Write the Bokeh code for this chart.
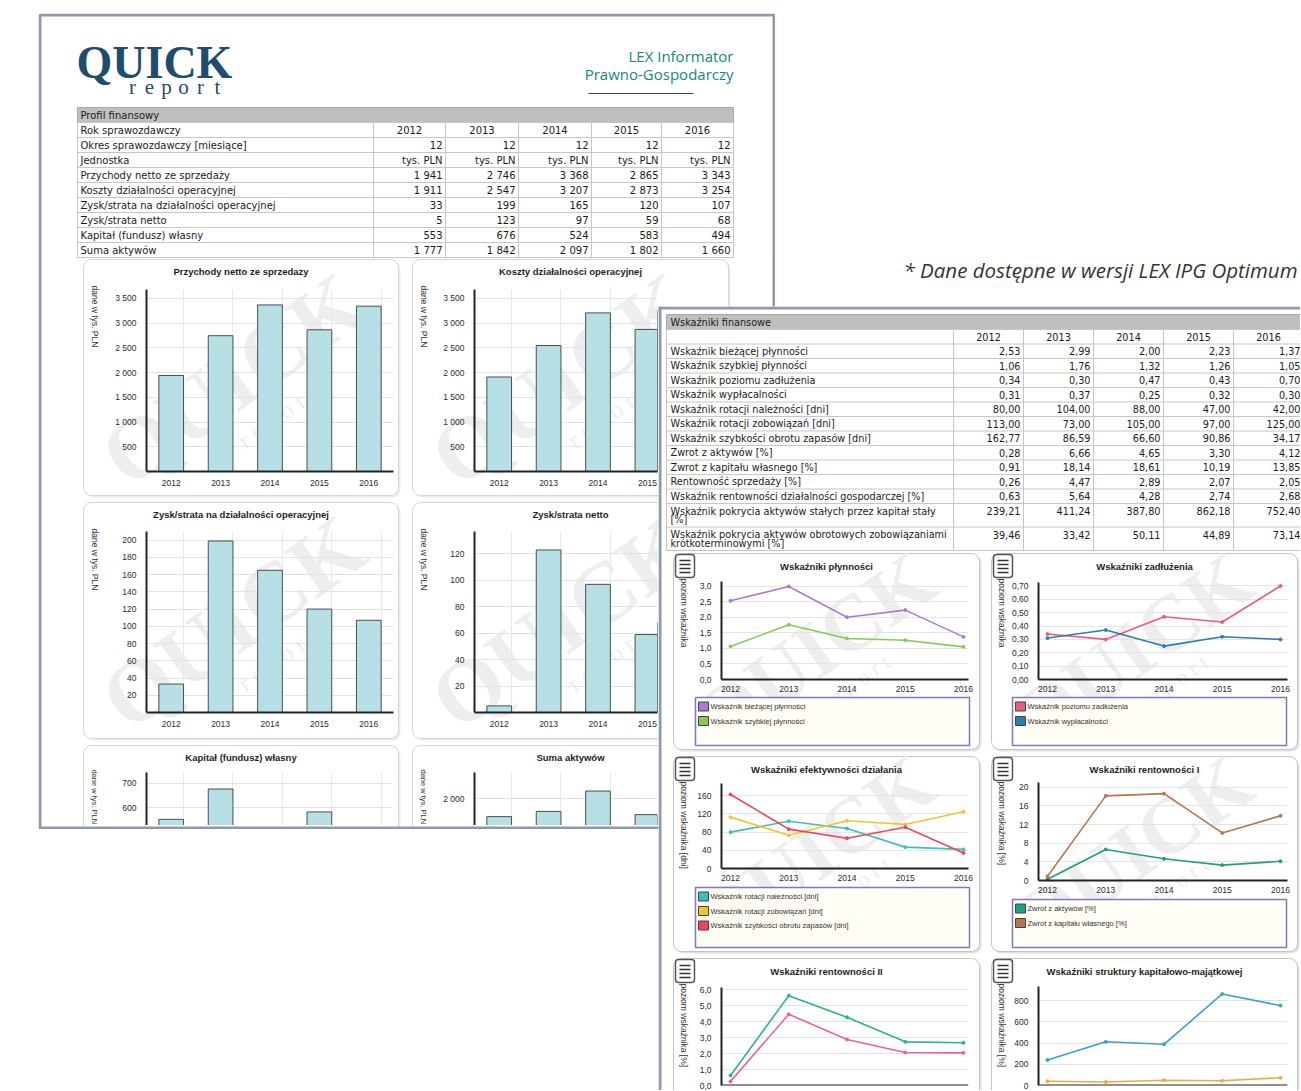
import math
from bokeh.plotting import figure
from bokeh.models import Range1d, FixedTicker, CustomJSTickFormatter, Grid, Span
from bokeh.embed import file_html
from bokeh.resources import INLINE
from bokeh.core.properties import value

# ------------------------------------------------------------------ data
YEARS = [2012, 2013, 2014, 2015, 2016]
YEAR_LABELS = ["2012", "2013", "2014", "2015", "2016"]

# Profil finansowy
okres_mies = [12, 12, 12, 12, 12]
jednostka = ["tys. PLN", "tys. PLN", "tys. PLN", "tys. PLN", "tys. PLN"]
przychody = [1941, 2746, 3368, 2865, 3343]
koszty = [1911, 2547, 3207, 2873, 3254]
zysk_oper = [33, 199, 165, 120, 107]
zysk_netto = [5, 123, 97, 59, 68]
kapital = [553, 676, 524, 583, 494]
suma_aktywow = [1777, 1842, 2097, 1802, 1660]

# Wskaźniki finansowe
w_biez = [2.53, 2.99, 2.00, 2.23, 1.37]
w_szybk = [1.06, 1.76, 1.32, 1.26, 1.05]
w_zadl = [0.34, 0.30, 0.47, 0.43, 0.70]
w_wypl = [0.31, 0.37, 0.25, 0.32, 0.30]
w_nal = [80.00, 104.00, 88.00, 47.00, 42.00]
w_zob = [113.00, 73.00, 105.00, 97.00, 125.00]
w_zap = [162.77, 86.59, 66.60, 90.86, 34.17]
w_roa = [0.28, 6.66, 4.65, 3.30, 4.12]
w_roe = [0.91, 18.14, 18.61, 10.19, 13.85]
w_ros = [0.26, 4.47, 2.89, 2.07, 2.05]
w_rdg = [0.63, 5.64, 4.28, 2.74, 2.68]
w_pas = [239.21, 411.24, 387.80, 862.18, 752.40]
w_pao = [39.46, 33.42, 50.11, 44.89, 73.14]

TABLE_FONT = "DejaVu Sans"
CHART_FONT = "Liberation Sans"
NAVY = "#1f4c6f"
TEAL = "#13897b"
BAR_FILL = "#b6e0e6"
PAGE_EDGE = "#8e99aa"
WM = "#eeeeee"


def fmt_int(v):
    return f"{v:,}".replace(",", " ")


def fmt_dec(v):
    return f"{v:.2f}".replace(".", ",")


def place(p, left, top):
    p.styles = {"position": "absolute", "left": f"{left}px", "top": f"{top}px"}


def canvas(left, top, w, h, fill="white"):
    p = figure(width=w, height=h, x_range=Range1d(left, left + w), y_range=Range1d(top + h, top),
               x_axis_type=None, y_axis_type=None, output_backend="svg",
               toolbar_location=None, min_border=0)
    p.outline_line_color = None
    p.background_fill_color = fill
    p.border_fill_color = fill
    place(p, left, top)
    return p


def texts(p, xs, ys, ss, size, color="#1a1a1a", font=TABLE_FONT, align="left",
          baseline="middle", style="normal", angle=0.0):
    p.text(x=list(xs), y=list(ys), text=list(ss), text_font=value(font),
           text_font_size=f"{size}px", text_color=color, text_align=align,
           text_baseline=baseline, text_font_style=style, angle=angle)


def card(p, x0, y0, x1, y1, line="#d4d4d4", shadow="#ececec"):
    p.quad(left=x0 + 2, right=x1 + 2, top=y0 + 2, bottom=y1 + 2, fill_color=shadow,
           line_color=None, border_radius=8)
    p.quad(left=x0, right=x1, top=y0, bottom=y1, fill_color="white", line_color=line,
           line_width=1, border_radius=8)


def watermark(p, cx, cy, size=90):
    ang = 0.62
    texts(p, [cx], [cy], ["QUICK"], size, color=WM, font="Liberation Serif", align="center",
          style="bold", angle=ang)
    texts(p, [cx + 0.5 * size], [cy + 0.42 * size], ["r e p o r t"], size * 0.28, color=WM,
          font="Liberation Serif", align="center", angle=ang)


def style_axes(p, size=8.5):
    for ax in p.axis:
        ax.axis_line_color = "#222222"
        ax.axis_line_width = 2
        ax.major_tick_line_color = None
        ax.minor_tick_line_color = None
        ax.major_label_text_font = CHART_FONT
        ax.major_label_text_font_size = f"{size}px"
        ax.major_label_text_color = "#2a2a2a"
        ax.major_label_standoff = 4


def bar_chart(frame, x_end, y_rng, yticks, vals, xaxis=True):
    fx0, fy0, fx1, fy1 = frame
    ml, mr, mt = 44, 2, 3
    mb = 16 if xaxis else 0
    p = figure(width=fx1 - fx0 + ml + mr, height=fy1 - fy0 + mt + mb,
               x_range=Range1d(2011.5, x_end), y_range=Range1d(*y_rng),
               x_axis_location="below" if xaxis else None,
               output_backend="svg", toolbar_location=None,
               min_border_left=ml, min_border_right=mr, min_border_top=mt, min_border_bottom=mb)
    p.grid.visible = False
    p.outline_line_color = None
    p.background_fill_color = None
    p.border_fill_color = None
    p.add_layout(Grid(dimension=1, ticker=FixedTicker(ticks=yticks), grid_line_color="#e3e3e3"))
    p.add_layout(Grid(dimension=0, ticker=FixedTicker(ticks=[y + 0.25 for y in YEARS]),
                      grid_line_color="#e8e8e8"))
    p.vbar(x=YEARS, top=vals, bottom=0, width=0.5, fill_color=BAR_FILL,
           line_color="#4d4d4d", line_width=1)
    p.yaxis.ticker = FixedTicker(ticks=yticks)
    p.yaxis.formatter = CustomJSTickFormatter(
        code=r"return String(Math.round(tick)).replace(/\B(?=(\d{3})+(?!\d))/g, ' ');")
    if xaxis:
        p.xaxis.ticker = FixedTicker(ticks=YEARS)
    style_axes(p)
    if xaxis:
        p.xaxis.major_label_standoff = 2
    place(p, fx0 - ml, fy0 - mt)
    return p


def line_chart(frame, x_end, y_end, yticks, decimals, series, xaxis=True):
    fx0, fy0, fx1, fy1 = frame
    ml, mr, mt = 32, 10, 6
    mb = 13 if xaxis else 5
    p = figure(width=fx1 - fx0 + ml + mr, height=fy1 - fy0 + mt + mb,
               x_range=Range1d(2011.845, x_end), y_range=Range1d(0, y_end),
               x_axis_location="below" if xaxis else None,
               output_backend="svg", toolbar_location=None,
               min_border_left=ml, min_border_right=mr, min_border_top=mt, min_border_bottom=mb)
    p.grid.visible = False
    p.outline_line_color = None
    p.background_fill_color = None
    p.border_fill_color = None
    p.add_layout(Grid(dimension=1, ticker=FixedTicker(ticks=yticks), grid_line_color="#e4e4e4"))
    for vals, col in series:
        p.line(YEARS, vals, line_color=col, line_width=1.6)
        p.scatter(YEARS, vals, size=3, fill_color=col, line_color=col)
    p.yaxis.ticker = FixedTicker(ticks=yticks)
    p.yaxis.formatter = CustomJSTickFormatter(
        code=f"return tick.toFixed({decimals}).replace('.', ',');")
    if xaxis:
        p.xaxis.ticker = FixedTicker(ticks=YEARS)
    else:
        p.add_layout(Span(location=0, dimension="width", line_color="#222222", line_width=2))
    style_axes(p, 8.5)
    if xaxis:
        p.xaxis.major_label_standoff = 0
    place(p, fx0 - ml, fy0 - mt)
    return p


roots = []

# ================================================================== left page
L = canvas(38, 13, 737, 816)
L.quad(left=38, right=775, top=13, bottom=829, fill_color="white", line_color=None)

# logo
texts(L, [76], [62], ["QUICK"], 46, color=NAVY, font="Liberation Serif", style="bold")
texts(L, [132 + 17 * i for i in range(6)], [86] * 6, list("report"), 21, color=NAVY,
      font="Liberation Serif", align="center")
texts(L, [733, 733], [55, 73], ["LEX Informator", "Prawno-Gospodarczy"], 15, color=TEAL,
      font="Open Sans", align="right")
L.segment(x0=[588], y0=[93], x1=[693], y1=[93], line_color="#444444", line_width=1.2)

# table Profil finansowy
LT_X0, LT_X1 = 77, 733
LT_COLS = [373, 445, 518, 591, 661, 733]
L.quad(left=LT_X0, right=LT_X1, top=107, bottom=122, fill_color="#bfbfbf", line_color="#a9a9a9")
texts(L, [80], [114.5], ["Profil finansowy"], 10)
left_rows = [
    ("Rok sprawozdawczy", YEAR_LABELS, "center"),
    ("Okres sprawozdawczy [miesiące]", [str(v) for v in okres_mies], "right"),
    ("Jednostka", jednostka, "right"),
    ("Przychody netto ze sprzedaży", [fmt_int(v) for v in przychody], "right"),
    ("Koszty działalności operacyjnej", [fmt_int(v) for v in koszty], "right"),
    ("Zysk/strata na działalności operacyjnej", [fmt_int(v) for v in zysk_oper], "right"),
    ("Zysk/strata netto", [fmt_int(v) for v in zysk_netto], "right"),
    ("Kapitał (fundusz) własny", [fmt_int(v) for v in kapital], "right"),
    ("Suma aktywów", [fmt_int(v) for v in suma_aktywow], "right"),
]
ROW_H = 15
n_rows = len(left_rows)
ybounds = [122 + ROW_H * i for i in range(n_rows + 1)]
L.segment(x0=[LT_X0] * len(ybounds), x1=[LT_X1] * len(ybounds), y0=ybounds, y1=ybounds,
          line_color="#c6c6c6", line_width=1)
L.segment(x0=[LT_X0] + LT_COLS, x1=[LT_X0] + LT_COLS, y0=[122] * 7, y1=[ybounds[-1]] * 7,
          line_color="#c6c6c6", line_width=1)
for i, (lab, cells, al) in enumerate(left_rows):
    yc = ybounds[i] + ROW_H / 2
    texts(L, [80], [yc], [lab], 10)
    if al == "center":
        xs = [(LT_COLS[j] + LT_COLS[j + 1]) / 2 for j in range(5)]
    else:
        xs = [LT_COLS[j + 1] - 3 for j in range(5)]
    texts(L, xs, [yc] * 5, cells, 10, align=al)

# chart cards (left page)
left_cards = [
    (83, 259, 398, 495, "Przychody netto ze sprzedazy", True),
    (412, 259, 728, 495, "Koszty działalności operacyjnej", True),
    (83, 502, 398, 738, "Zysk/strata na działalności operacyjnej", True),
    (412, 502, 728, 738, "Zysk/strata netto", True),
    (83, 745, 398, 860, "Kapitał (fundusz) własny", False),
    (412, 745, 728, 860, "Suma aktywów", False),
]
for x0, y0, x1, y1, ttl, full in left_cards:
    card(L, x0, y0, x1, y1)
    if full:
        watermark(L, (x0 + x1) / 2 - 8, (y0 + y1) / 2 + 2, 88)
        texts(L, [x0 + 11], [y0 + 26], ["dane w tys. PLN"], 8.5, font=CHART_FONT,
              angle=-math.pi / 2, color="#333333")
    else:
        texts(L, [x0 + 11], [y0 + 24], ["dane w tys. PLN"], 7.5, font=CHART_FONT,
              angle=-math.pi / 2, color="#333333")
    texts(L, [(x0 + x1) / 2], [y0 + 12], [ttl], 9.5, font=CHART_FONT, style="bold",
          align="center", color="#1e1e1e")

# page edge
L.quad(left=39.5, right=773.5, top=14.5, bottom=827.5, fill_color=None,
       line_color=PAGE_EDGE, line_width=3)
roots.append(L)

# left charts
roots.append(bar_chart((146, 289, 393, 472), 2016.5, (0, 3680),
                       [500, 1000, 1500, 2000, 2500, 3000, 3500], przychody))
roots.append(bar_chart((474, 289, 657, 472), 2015.204, (0, 3680),
                       [500, 1000, 1500, 2000, 2500, 3000, 3500], koszty))
roots.append(bar_chart((146, 531, 393, 713), 2016.5, (0, 210),
                       [20, 40, 60, 80, 100, 120, 140, 160, 180, 200], zysk_oper))
roots.append(bar_chart((474, 531, 657, 713), 2015.204, (0, 137),
                       [20, 40, 60, 80, 100, 120], zysk_netto))
roots.append(bar_chart((146, 772, 393, 825), 2016.5, (528, 743), [600, 700], kapital, xaxis=False))
roots.append(bar_chart((474, 772, 657, 825), 2015.204, (1666, 2329), [2000], suma_aktywow,
                       xaxis=False))

# ================================================================== note
N = canvas(895, 254, 405, 32)
texts(N, [903], [269], ["* Dane dostępne w wersji LEX IPG Optimum"], 20.5, color="#333333",
      font="Open Sans", style="italic")
roots.append(N)

# ================================================================== right page
R = canvas(658, 306, 642, 784)
R.quad(left=658, right=1300, top=306, bottom=1090, fill_color="white", line_color=None)

RT_X0, RT_X1 = 666, 1303
RT_COLS = [953, 1023, 1093, 1163, 1233, 1303]
R.quad(left=RT_X0, right=RT_X1, top=314, bottom=329, fill_color="#bfbfbf", line_color="#a9a9a9")
texts(R, [670], [321.5], ["Wskaźniki finansowe"], 9.7)
right_rows = [
    (["Wskaźnik bieżącej płynności"], w_biez),
    (["Wskaźnik szybkiej płynności"], w_szybk),
    (["Wskaźnik poziomu zadłużenia"], w_zadl),
    (["Wskaźnik wypłacalności"], w_wypl),
    (["Wskaźnik rotacji należności [dni]"], w_nal),
    (["Wskaźnik rotacji zobowiązań [dni]"], w_zob),
    (["Wskaźnik szybkości obrotu zapasów  [dni]"], w_zap),
    (["Zwrot z aktywów [%]"], w_roa),
    (["Zwrot z kapitału własnego [%]"], w_roe),
    (["Rentowność sprzedaży [%]"], w_ros),
    (["Wskaźnik rentowności działalności gospodarczej [%]"], w_rdg),
    (["Wskaźnik pokrycia aktywów stałych przez kapitał stały", "[%]"], w_pas),
    (["Wskaźnik pokrycia aktywów obrotowych zobowiązaniami", "krótkoterminowymi [%]"], w_pao),
]
heights = [14.5] + [14.5 if len(r[0]) == 1 else 23.5 for r in right_rows]
rb = [329.0]
for h in heights:
    rb.append(rb[-1] + h)
R.segment(x0=[RT_X0] * len(rb), x1=[RT_X1] * len(rb), y0=rb, y1=rb, line_color="#c6c6c6")
R.segment(x0=[RT_X0] + RT_COLS, x1=[RT_X0] + RT_COLS, y0=[329] * 7, y1=[rb[-1]] * 7,
          line_color="#c6c6c6")
texts(R, [(RT_COLS[j] + RT_COLS[j + 1]) / 2 for j in range(5)], [rb[0] + 7.5] * 5, YEAR_LABELS,
      9.7, align="center")
for i, (lines, vals) in enumerate(right_rows):
    top = rb[i + 1]
    if len(lines) == 1:
        yc = top + 14.5 / 2
        texts(R, [670], [yc], lines, 9.7)
    else:
        yc = top + 7.5
        texts(R, [670, 670], [yc, yc + 8.5], lines, 9.7)
    texts(R, [RT_COLS[j + 1] - 3 for j in range(5)], [yc] * 5, [fmt_dec(v) for v in vals], 9.7,
          align="right")

right_cards = [
    (673, 553, 979, 749, "Wskaźniki płynności", "poziom wskaźnika", True),
    (991, 553, 1297, 749, "Wskaźniki zadłużenia", "poziom wskaźnika", True),
    (673, 756, 979, 951, "Wskaźniki efektywności działania", "poziom wskaźnika [dni]", True),
    (991, 756, 1297, 951, "Wskaźniki rentowności I", "poziom wskaźnika [%]", True),
    (673, 958, 979, 1120, "Wskaźniki rentowności II", "poziom wskaźnika [%]", False),
    (991, 958, 1297, 1120, "Wskaźniki struktury kapitałowo-majątkowej", "poziom wskaźnika [%]",
     False),
]
for x0, y0, x1, y1, ttl, ylab, full in right_cards:
    card(R, x0, y0, x1, y1, line="#c4c4c4", shadow="#e2e2e2")
    if full:
        watermark(R, (x0 + x1) / 2 - 12, (y0 + y1) / 2 - 2, 80)
    texts(R, [(x0 + x1) / 2], [y0 + 13], [ttl], 9.5, font=CHART_FONT, style="bold",
          align="center", color="#1e1e1e")
    texts(R, [x0 + 10], [y0 + 25], [ylab], 8.5, font=CHART_FONT, angle=-math.pi / 2,
          color="#333333")
    # menu button
    R.quad(left=x0 + 2, right=x0 + 21, top=y0 + 1, bottom=y0 + 24, fill_color="white",
           line_color="#555555", line_width=1.5, border_radius=3)
    R.segment(x0=[x0 + 6] * 4, x1=[x0 + 17] * 4,
              y0=[y0 + 7, y0 + 11, y0 + 15, y0 + 19], y1=[y0 + 7, y0 + 11, y0 + 15, y0 + 19],
              line_color="#333333", line_width=1.5)

C_BIEZ, C_SZYBK = "#a97ccf", "#86c95a"
C_ZADL, C_WYPL = "#ef5b7f", "#2a7fad"
C_NAL, C_ZOB, C_ZAP = "#3bbfc0", "#f4c430", "#f0445a"
C_ROA, C_ROE = "#1f9f80", "#b5774f"
C_ROS, C_RDG = "#f0609a", "#2bb38a"
C_PAS, C_PAO = "#3a9fd6", "#f5a742"

legends = [
    ((695, 697, 969, 745), [("Wskaźnik bieżącej płynności", C_BIEZ),
                            ("Wskaźnik szybkiej płynności", C_SZYBK)]),
    ((1012, 697, 1286, 745), [("Wskaźnik poziomu zadłużenia", C_ZADL),
                              ("Wskaźnik wypłacalności", C_WYPL)]),
    ((695, 887, 969, 947), [("Wskaźnik rotacji należności [dni]", C_NAL),
                            ("Wskaźnik rotacji zobowiązań [dni]", C_ZOB),
                            ("Wskaźnik szybkości obrotu zapasów  [dni]", C_ZAP)]),
    ((1012, 899, 1286, 947), [("Zwrot z aktywów [%]", C_ROA),
                              ("Zwrot z kapitału własnego [%]", C_ROE)]),
]
for (x0, y0, x1, y1), entries in legends:
    R.quad(left=x0, right=x1, top=y0, bottom=y1, fill_color="#fffdf6", line_color="#7c7ac2",
           line_width=1.5)
    for i, (lab, col) in enumerate(entries):
        yc = y0 + 9 + 14.5 * i
        R.quad(left=x0 + 3, right=x0 + 13, top=yc - 4.5, bottom=yc + 4.5, fill_color=col,
               line_color="#444444", line_width=1)
        texts(R, [x0 + 15], [yc], [lab], 7.5, font=CHART_FONT, color="#333333")

# page edges
R.segment(x0=[659.5], x1=[659.5], y0=[306], y1=[1090], line_color=PAGE_EDGE, line_width=3)
R.segment(x0=[658], x1=[1300], y0=[307.5], y1=[307.5], line_color=PAGE_EDGE, line_width=3)
roots.append(R)

# right charts
roots.append(line_chart((721, 581, 968, 681), 2016.086, 3.15, [0, 0.5, 1, 1.5, 2, 2.5, 3], 1,
                        [(w_biez, C_BIEZ), (w_szybk, C_SZYBK)]))
roots.append(line_chart((1038, 582, 1287, 681), 2016.12, 0.726,
                        [0, 0.1, 0.2, 0.3, 0.4, 0.5, 0.6, 0.7], 2,
                        [(w_zadl, C_ZADL), (w_wypl, C_WYPL)]))
roots.append(line_chart((721, 783, 968, 870), 2016.086, 187, [0, 40, 80, 120, 160], 0,
                        [(w_nal, C_NAL), (w_zob, C_ZOB), (w_zap, C_ZAP)]))
roots.append(line_chart((1038, 782, 1287, 882), 2016.12, 21, [0, 4, 8, 12, 16, 20], 0,
                        [(w_roa, C_ROA), (w_roe, C_ROE)]))
roots.append(line_chart((721, 987, 968, 1085), 2016.086, 6.15, [0, 1, 2, 3, 4, 5, 6], 1,
                        [(w_rdg, C_RDG), (w_ros, C_ROS)], xaxis=False))
roots.append(line_chart((1038, 986, 1287, 1085), 2016.12, 932, [0, 200, 400, 600, 800], 0,
                        [(w_pas, C_PAS), (w_pao, C_PAO)], xaxis=False))

open("out.html", "w").write(file_html(roots, INLINE, title="Quick report"))
